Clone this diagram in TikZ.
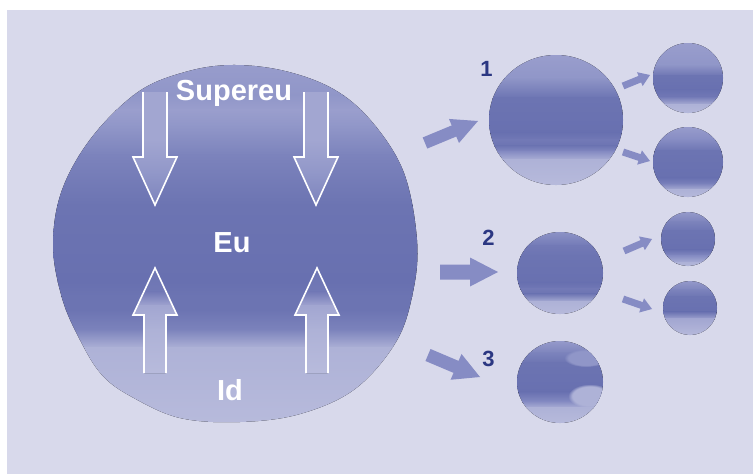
\documentclass[tikz,border=0pt]{standalone}
\usepackage{fontspec}
\setmainfont{Liberation Sans}
\usetikzlibrary{calc,fadings}

% palette: lavender paper and a ramp of blues from light to dark
\definecolor{paper}{HTML}{D8D9EB}
\definecolor{lv0}{HTML}{B8BBDC}
\definecolor{lv1}{HTML}{AEB2D7}
\definecolor{lv2}{HTML}{A2A6D1}
\definecolor{lv3}{HTML}{9A9ECD}
\definecolor{lv4}{HTML}{9096C8}
\definecolor{lv5}{HTML}{868CC3}
\definecolor{lv6}{HTML}{7C83BC}
\definecolor{lv7}{HTML}{7279B6}
\definecolor{lv8}{HTML}{6C74B2}
\definecolor{lv9}{HTML}{6870B0}
\definecolor{numblue}{HTML}{2B3782}
\definecolor{flow}{HTML}{868CC4}

% horizontal colour bands: x-left, x-right, list of ytop/ctop/ybottom/cbottom
\newcommand\shadebands[3]{%
  \foreach \ya/\ca/\yb/\cb in {#3}
    \fill[top color=\ca,bottom color=\cb] (#1,\ya-0.5) rectangle (#2,\yb+0.5);}

% solid block arrow: tail, tip, shaft half width, head half width, head length
\newcommand\blockarrow[5]{%
  \coordinate (ba-b) at ($(#2)!#5pt!(#1)$);
  \fill[flowarrow]
    ($(#1)!#3pt!90:(#2)$) -- ($(ba-b)!#3pt!90:(#2)$) -- ($(ba-b)!#4pt!90:(#2)$)
    -- (#2) -- ($(ba-b)!#4pt!-90:(#2)$) -- ($(ba-b)!#3pt!-90:(#2)$)
    -- ($(#1)!#3pt!-90:(#2)$) -- cycle;}

\begin{document}
\begin{tikzpicture}[x=1pt,y=-1pt,
  bigword/.style={text=white,font=\bfseries\fontsize{29}{34}\selectfont,inner sep=0pt,anchor=base},
  numlabel/.style={text=numblue,font=\bfseries\fontsize{22}{26}\selectfont,inner sep=0pt,anchor=base},
  flowarrow/.style={fill=flow},
  hollow/.style={draw=white,line width=1.6pt,line join=miter,line cap=butt},
  softpatch/.style={fill=#1,path fading=circle with fuzzy edge 20 percent}]

\useasboundingbox (0,0) rectangle (753,474);
\fill[white] (0,0) rectangle (753,474);
\fill[paper] (7,10) rectangle (753,474);

% ---- the large psyche blob ----
\def\blobpath{plot[smooth cycle,tension=0.6] coordinates {
  (232,65) (285,71) (335,90) (373,123) (404,173) (417,240) (413,292)
  (396,342) (355,389) (300,414) (240,422) (180,418) (132,397) (102,375)
  (80,340) (62,298) (53,245) (62,190) (92,137) (138,92) (185,72)}}
\begin{scope}
  \clip \blobpath;
  \shadebands{40}{430}{55/lv3/95/lv4, 95/lv4/110/lv3, 110/lv3/127/lv4,
    127/lv4/155/lv6, 155/lv6/205/lv8, 205/lv8/282/lv9, 282/lv9/296/lv8,
    296/lv8/310/lv8, 310/lv8/330/lv6, 330/lv6/348/lv1, 348/lv1/430/lv0}
\end{scope}

% hollow pressure arrows inside the blob
\foreach \cx in {155,316}{
  \begin{scope}
    \clip (\cx-12,92) -- (\cx-12,157) -- (\cx-22,157) -- (\cx,205)
      -- (\cx+22,157) -- (\cx+12,157) -- (\cx+12,92) -- cycle;
    \shadebands{\cx-25}{\cx+25}{90/lv2/140/lv2, 140/lv2/175/lv4, 175/lv4/206/lv6}
  \end{scope}
  \draw[hollow] (\cx-12,92) -- (\cx-12,157) -- (\cx-22,157) -- (\cx,205)
    -- (\cx+22,157) -- (\cx+12,157) -- (\cx+12,92);
}
\foreach \cx in {155,317}{
  \begin{scope}
    \clip (\cx-11,373) -- (\cx-11,315) -- (\cx-22,315) -- (\cx,268)
      -- (\cx+22,315) -- (\cx+11,315) -- (\cx+11,373) -- cycle;
    \shadebands{\cx-25}{\cx+25}{266/lv8/292/lv7, 292/lv7/306/lv2,
      306/lv2/330/lv1, 330/lv1/375/lv0}
  \end{scope}
  \draw[hollow] (\cx-11,373) -- (\cx-11,315) -- (\cx-22,315) -- (\cx,268)
    -- (\cx+22,315) -- (\cx+11,315) -- (\cx+11,373);
}

\node[bigword] (supereu) at (234,100) {Supereu};
\node[bigword] (eu) at (232,252) {Eu};
\node[bigword] (id) at (230,400) {Id};

% ---- outcome circles ----
% 1: large
\begin{scope}
  \clip (556,120) ellipse [x radius=67,y radius=65];
  \shadebands{485}{627}{53/lv3/78/lv4, 78/lv4/98/lv8, 98/lv8/133/lv9,
    133/lv9/140/lv7, 140/lv7/146/lv8, 146/lv8/152/lv5, 152/lv5/160/lv1,
    160/lv1/188/lv0}
\end{scope}
% 1a, 1b
\begin{scope}
  \clip (688,78) circle [radius=35];
  \shadebands{650}{726}{41/lv3/65/lv4, 65/lv4/76/lv8, 76/lv8/90/lv9,
    90/lv9/97/lv7, 97/lv7/105/lv1, 105/lv1/116/lv0}
\end{scope}
\begin{scope}
  \clip (688,162) circle [radius=35];
  \shadebands{650}{726}{125/lv3/140/lv5, 140/lv5/151/lv8, 151/lv8/178/lv9,
    178/lv9/184/lv6, 184/lv6/190/lv1, 190/lv1/200/lv0}
\end{scope}
% 2: medium
\begin{scope}
  \clip (560,273) ellipse [x radius=43,y radius=41];
  \shadebands{514}{606}{230/lv4/246/lv7, 246/lv7/256/lv8, 256/lv8/283/lv9,
    283/lv9/289/lv7, 289/lv7/294/lv8, 294/lv8/302/lv1, 302/lv1/316/lv0}
\end{scope}
% 2a, 2b
\begin{scope}
  \clip (688,239) circle [radius=27];
  \shadebands{658}{718}{210/lv3/222/lv6, 222/lv6/231/lv8, 231/lv8/250/lv9,
    250/lv9/256/lv5, 256/lv5/263/lv1, 263/lv1/268/lv0}
\end{scope}
\begin{scope}
  \clip (690,308) circle [radius=27];
  \shadebands{660}{720}{279/lv3/290/lv6, 290/lv6/297/lv8, 297/lv8/312/lv9,
    312/lv9/319/lv2, 319/lv2/337/lv0}
\end{scope}
% 3: medium, mottled
\begin{scope}
  \clip (560,382) ellipse [x radius=43,y radius=41];
  \shadebands{514}{606}{339/lv3/353/lv6, 353/lv6/363/lv8, 363/lv8/392/lv9,
    392/lv9/402/lv5, 402/lv5/408/lv1, 408/lv1/425/lv0}
  \fill[softpatch=lv4] (586,358) ellipse [x radius=22,y radius=9];
  \fill[softpatch=lv1] (590,396) ellipse [x radius=22,y radius=12];
\end{scope}

% ---- numbers ----
\node[numlabel] (n1) at (486.5,76) {1};
\node[numlabel] (n2) at (488.5,245) {2};
\node[numlabel] (n3) at (488.5,366.5) {3};

% ---- flow arrows ----
\coordinate (f1a) at (425,143); \coordinate (f1b) at (478,121);
\coordinate (f2a) at (440,272); \coordinate (f2b) at (498,272);
\coordinate (f3a) at (428,355); \coordinate (f3b) at (480,377);
\blockarrow{f1a}{f1b}{6}{13}{26}
\blockarrow{f2a}{f2b}{7.5}{14.5}{28}
\blockarrow{f3a}{f3b}{6.5}{14}{26}

\coordinate (g1a) at (623,86);  \coordinate (g1b) at (650,75);
\coordinate (g2a) at (623,152); \coordinate (g2b) at (650,161);
\coordinate (g3a) at (624,251); \coordinate (g3b) at (652,239);
\coordinate (g4a) at (623,299); \coordinate (g4b) at (652,309);
\blockarrow{g1a}{g1b}{3.5}{7.5}{11}
\blockarrow{g2a}{g2b}{3.5}{7.5}{11}
\blockarrow{g3a}{g3b}{3.5}{7.5}{11}
\blockarrow{g4a}{g4b}{3.5}{7.5}{11}

\end{tikzpicture}
\end{document}
